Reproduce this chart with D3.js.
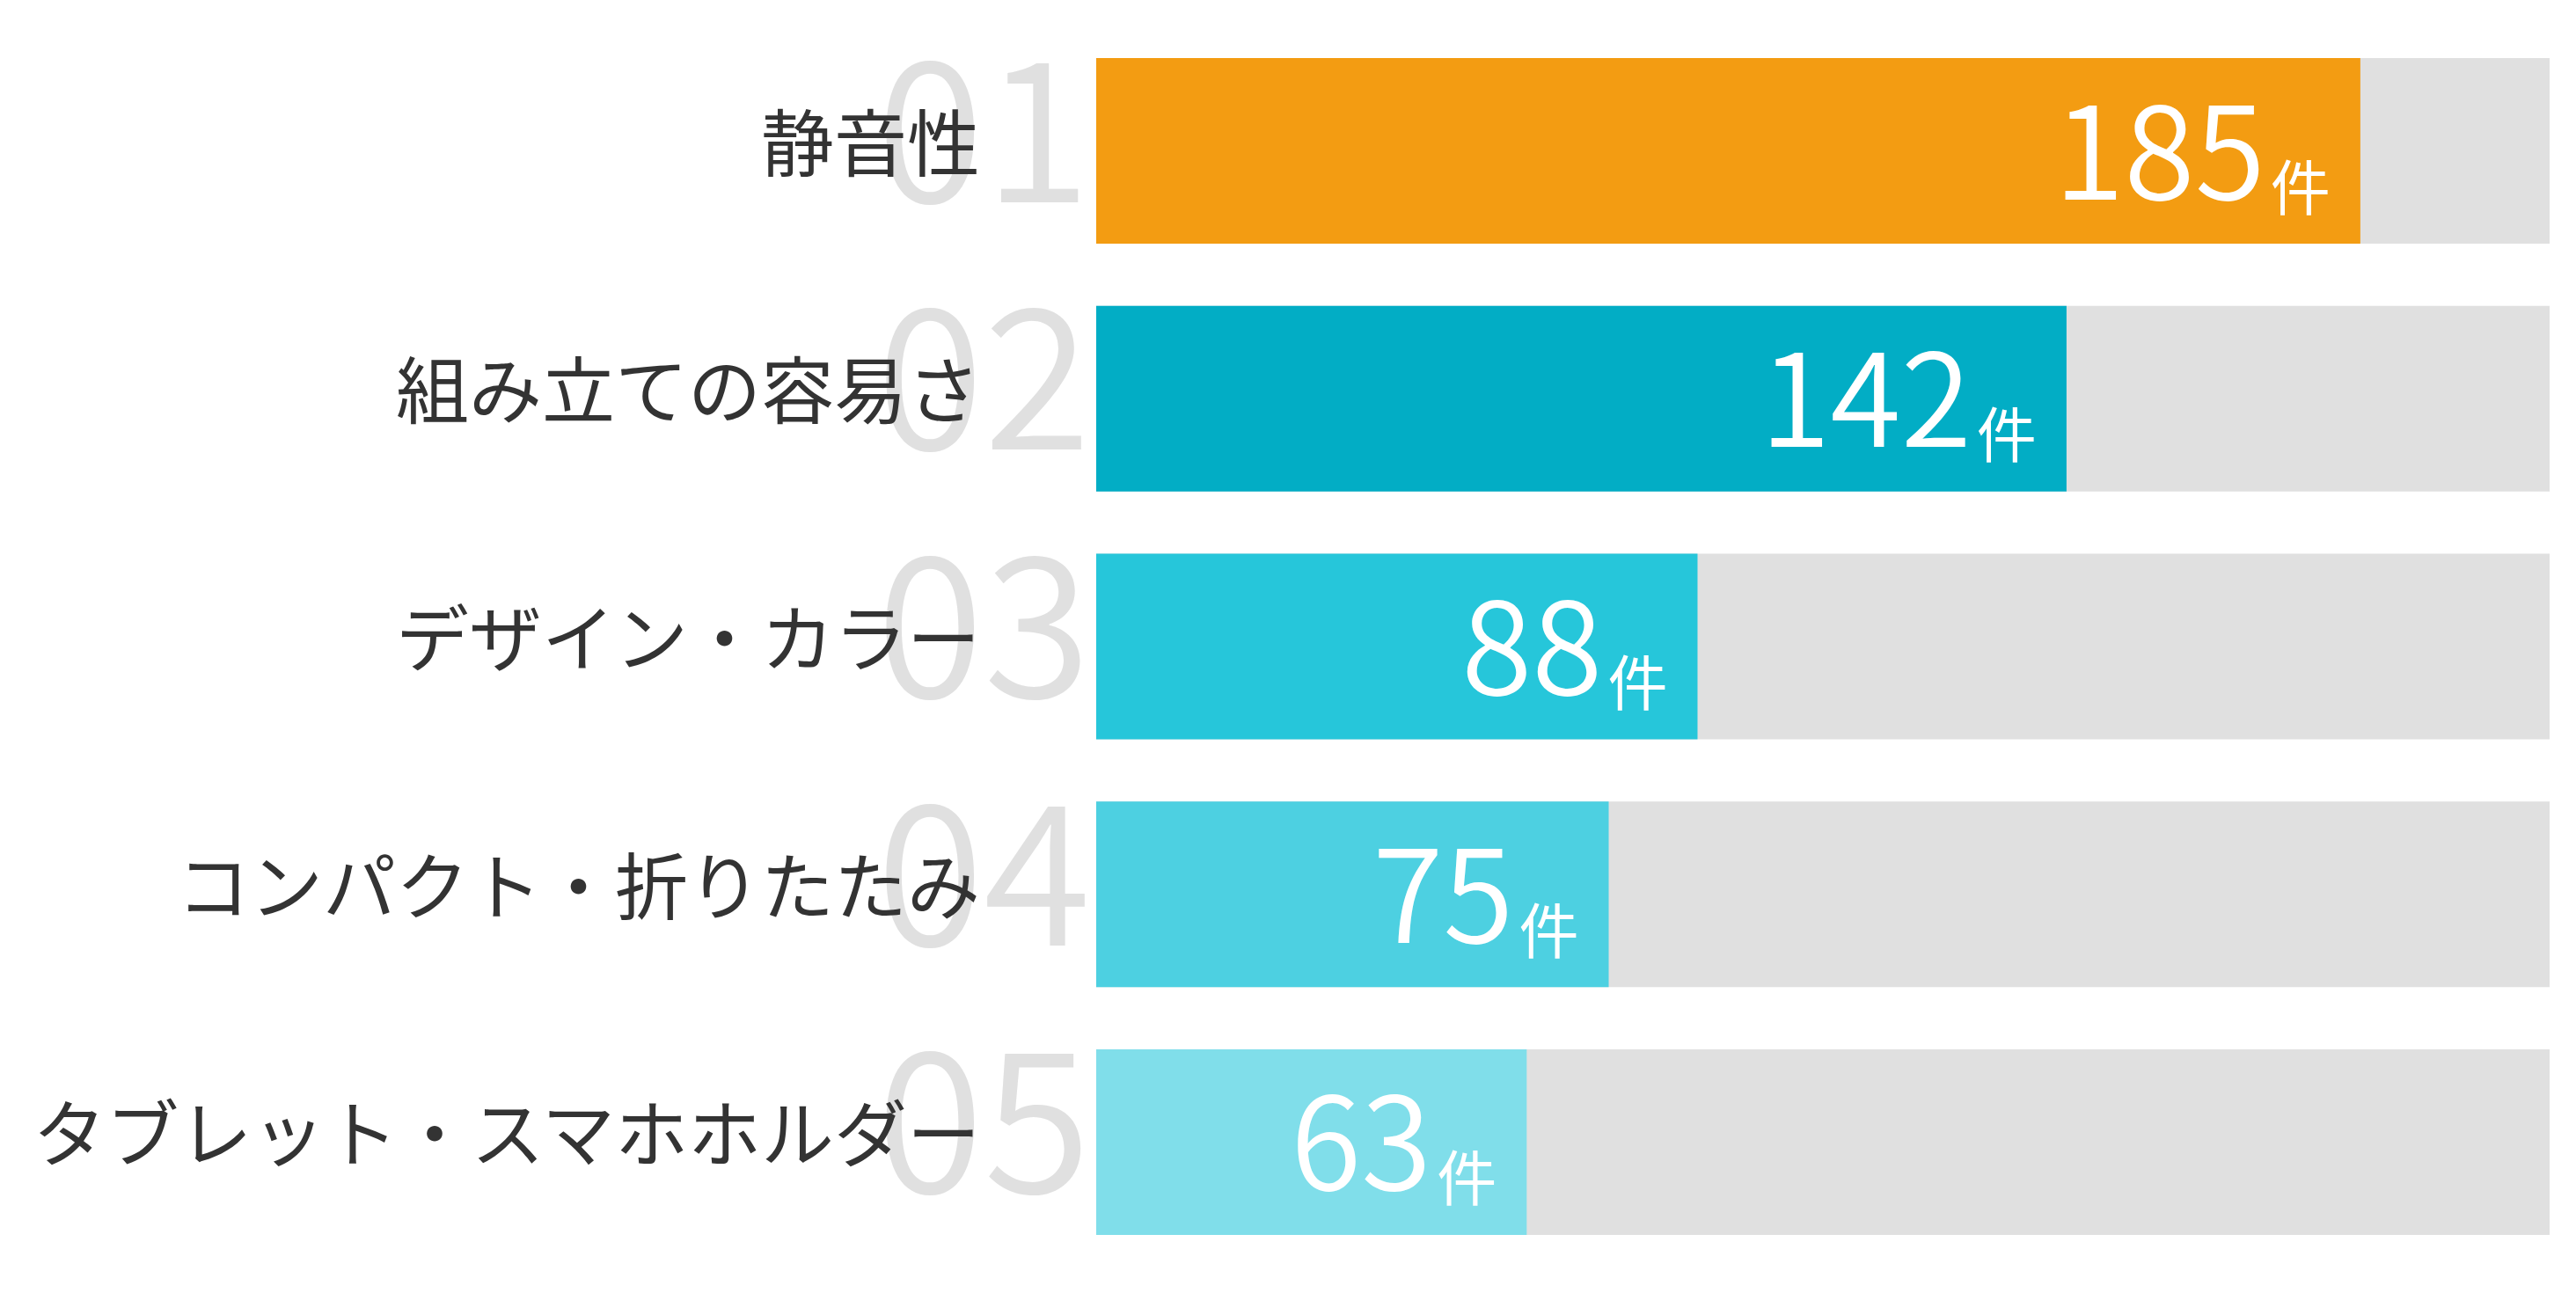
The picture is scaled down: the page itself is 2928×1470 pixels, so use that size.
<!DOCTYPE html>
<html>
<head>
<meta charset="utf-8">
<script src="https://cdn.jsdelivr.net/npm/d3@7"></script>
<style>
  body { margin: 0; background: #fff; }
  svg text { font-family: "Noto Sans CJK JP", "Noto Sans", sans-serif; }
</style>
</head>
<body>
<div id="chart"></div>
<script>
// data
var ranks = ["01", "02", "03", "04", "05"];
var categories = ["静音性", "組み立ての容易さ", "デザイン・カラー", "コンパクト・折りたたみ", "タブレット・スマホホルダー"];
var counts = [185, 142, 88, 75, 63];
var barColors = ["#F39C12", "#02ADC5", "#26C6DA", "#4DD0E1", "#80DEEA"];
var unitLabel = "件";
var trackMax = 212.7; // grey track = full scale

var width = 2928, height = 1470;

var svg = d3.select("#chart").append("svg")
    .attr("width", width)
    .attr("height", height);

var x = d3.scaleLinear().domain([0, trackMax]).range([1246, 2898]);
var y = d3.scaleBand().domain(ranks).range([66, 1404]).paddingInner(0.251).paddingOuter(0);

var rows = ranks.map(function(r, i) {
  return { rank: r, label: categories[i], count: counts[i], color: barColors[i] };
});

var row = svg.selectAll("g.row")
    .data(rows)
  .enter().append("g")
    .attr("class", "row");

// grey track
row.append("rect")
    .attr("x", x(0))
    .attr("y", function(d) { return y(d.rank); })
    .attr("width", x(trackMax) - x(0))
    .attr("height", y.bandwidth())
    .style("fill", "#E0E0E0");

// value bar
row.append("rect")
    .attr("x", x(0))
    .attr("y", function(d) { return y(d.rank); })
    .attr("width", function(d) { return x(d.count) - x(0); })
    .attr("height", y.bandwidth())
    .style("fill", function(d) { return d.color; });

// big rank number behind the label
row.append("text")
    .attr("x", x(0) - 6)
    .attr("y", function(d) { return y(d.rank) + y.bandwidth() / 2 + 58; })
    .attr("text-anchor", "end")
    .style("font-size", "222px")
    .style("font-weight", 350)
    .style("fill", "#E0E0E0")
    .text(function(d) { return d.rank; });

// category label
row.append("text")
    .attr("x", 1114)
    .attr("y", function(d) { return y(d.rank) + y.bandwidth() / 2 + 22; })
    .attr("text-anchor", "end")
    .style("font-size", "83px")
    .style("fill", "#333333")
    .text(function(d) { return d.label; });

// value label inside bar
var val = row.append("text")
    .attr("x", function(d) { return x(d.count) - 34; })
    .attr("y", function(d) { return y(d.rank) + y.bandwidth() / 2 + 55; })
    .attr("text-anchor", "end")
    .style("fill", "#fff");

val.append("tspan")
    .style("font-size", "146px")
    .style("font-weight", 350)
    .text(function(d) { return d.count; });

val.append("tspan")
    .attr("dx", 6)
    .attr("dy", 12)
    .style("font-size", "68px")
    .text(unitLabel);
</script>
</body>
</html>
